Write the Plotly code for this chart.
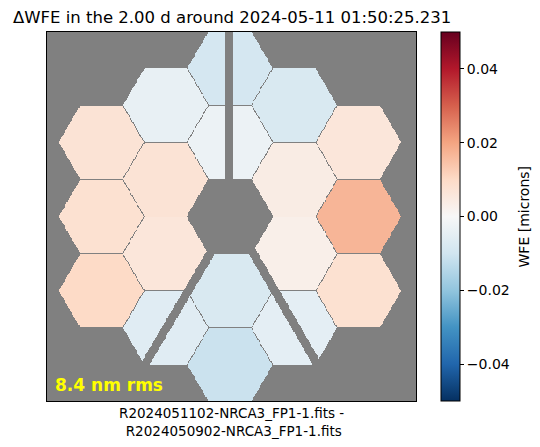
import numpy as np
import plotly.graph_objects as go

# segment layout: column index (ring x position), row (in segment pitches), mean dWFE [microns]
seg_col = [0, 0, 0, 0, -1, -1, -1, -1, 1, 1, 1, 1, -2, -2, -2, 2, 2, 2]
seg_row = [2, 1, -1, -2, 1.5, 0.5, -0.5, -1.5, 1.5, 0.5, -0.5, -1.5, 1, 0, -1, 1, 0, -1]
seg_wfe = [-0.009, -0.003, -0.008, -0.011,
           -0.004, 0.007, 0.006, -0.006,
           -0.008, 0.004, 0.003, -0.005,
           0.007, 0.008, 0.010,
           0.006, 0.017, 0.008]

cbar_ticks = [-0.04, -0.02, 0.0, 0.02, 0.04]
cbar_labels = ["\u22120.04", "\u22120.02", "0.00", "0.02", "0.04"]

title = "\u0394WFE in the 2.00 d around 2024-05-11 01:50:25.231"
xlabel = "R2024051102-NRCA3_FP1-1.fits -<br>\u00a0R2024050902-NRCA3_FP1-1.fits"
rms_text = "8.4 nm rms"

# pupil geometry (metres)
flat = 1.32
gap = 0.015
pitch = flat + gap
rc = flat / np.sqrt(3)
xr = [-3.287, 3.341]
yr = [-3.314, 3.314]
n = 420

dx = (xr[1] - xr[0]) / n
dy = (yr[1] - yr[0]) / n
x = np.linspace(xr[0] + dx / 2, xr[1] - dx / 2, n)
y = np.linspace(yr[0] + dy / 2, yr[1] - dy / 2, n)
X, Y = np.meshgrid(x, y)

Z = np.full(X.shape, np.nan)
for c, r, v in zip(seg_col, seg_row, seg_wfe):
    cx = c * 1.5 * pitch / np.sqrt(3)
    cy = r * pitch
    ax = np.abs(X - cx)
    ay = np.abs(Y - cy)
    inside = (ay <= flat / 2) & (np.sqrt(3) * ax + ay <= np.sqrt(3) * rc)
    Z[inside] = v

# secondary mirror struts
top_x0, top_w = -0.01, 0.14
Z[(np.abs(X - top_x0) < top_w / 2) & (Y > 0)] = np.nan
px, py, sw = 0.036, 0.0, 0.15
for ang in [-30.5, 30.0]:
    t = np.radians(ang)
    ux, uy = np.sin(t), -np.cos(t)
    along = (X - px) * ux + (Y - py) * uy
    perp = (X - px) * np.cos(t) + (Y - py) * np.sin(t)
    Z[(np.abs(perp) < sw / 2) & (along > 0)] = np.nan

rdbu_r = ['#053061', '#2166ac', '#4393c3', '#92c5de', '#d1e5f0', '#f7f7f7',
          '#fddbc7', '#f4a582', '#d6604d', '#b2182b', '#67001f']
cscale = [[i / 10, c] for i, c in enumerate(rdbu_r)]

fig = go.Figure(go.Heatmap(
    x=x, y=y, z=Z,
    colorscale=cscale, zmin=-0.05, zmax=0.05,
    hoverongaps=False,
    colorbar=dict(
        x=(441 - 47) / 369, xanchor='left', xpad=0,
        y=0.5, yanchor='middle', len=1, lenmode='fraction', ypad=0,
        thickness=19, outlinewidth=1, outlinecolor='black',
        ticks='outside', ticklen=4, tickcolor='black',
        tickvals=cbar_ticks, ticktext=cbar_labels,
        tickfont=dict(size=14, color='black'),
    ),
))

axis_style = dict(showticklabels=False, ticks='', showgrid=False, zeroline=False,
                  showline=True, mirror=True, linecolor='black', linewidth=1)

fig.update_layout(
    width=540, height=447,
    margin=dict(l=47, r=124, t=32, b=46),
    paper_bgcolor='white',
    plot_bgcolor='#808080',
    font=dict(family='DejaVu Sans', color='black'),
    xaxis=dict(range=xr, **axis_style),
    yaxis=dict(range=yr, **axis_style),
    annotations=[
        dict(text=title, xref='paper', yref='paper', x=0.5, y=1,
             xanchor='center', yanchor='bottom', yshift=3,
             showarrow=False, font=dict(size=16.5)),
        dict(text=xlabel, xref='paper', yref='paper', x=0.5, y=0,
             xanchor='center', yanchor='top', yshift=-2,
             showarrow=False, font=dict(size=13.5)),
        dict(text="<b>" + rms_text + "</b>", xref='paper', yref='paper',
             x=(53 - 47) / 369, y=(401 - 385) / 369,
             xanchor='left', yanchor='middle', showarrow=False,
             font=dict(size=17, color='#ffff00')),
        dict(text="WFE [microns]", xref='paper', yref='paper',
             x=(523 - 47) / 369, y=0.5, xanchor='center', yanchor='middle',
             textangle=-90, showarrow=False, font=dict(size=14)),
    ],
)

fig.write_html("out.html", config={'displayModeBar': False},
               post_script="document.body.style.margin='0';")
